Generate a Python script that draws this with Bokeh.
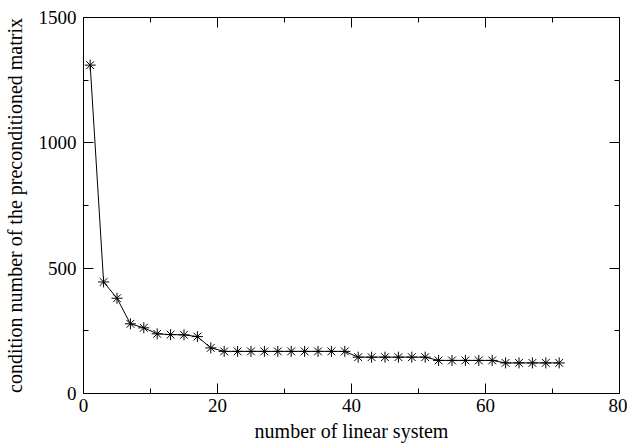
from bokeh.plotting import figure
from bokeh.models import LinearAxis, Range1d, FixedTicker, ColumnDataSource, CustomLabelingPolicy
from bokeh.embed import file_html
from bokeh.resources import INLINE

system_no = [1, 3, 5, 7, 9, 11, 13, 15, 17, 19, 21, 23, 25, 27, 29, 31, 33, 35, 37, 39,
             41, 43, 45, 47, 49, 51, 53, 55, 57, 59, 61, 63, 65, 67, 69, 71]
cond_number = [1310, 445, 380, 278, 262, 238, 235, 234, 227, 182, 168, 168, 168, 168, 168, 168, 168, 168, 168, 168,
               145, 145, 145, 145, 145, 145, 132, 132, 132, 132, 132, 122, 122, 122, 122, 122]

x_major = [0, 20, 40, 60, 80]
x_minor = [10, 30, 50, 70]
y_major = [0, 500, 1000, 1500]
y_minor = [250, 750, 1250]

FONT = "Liberation Serif"
TICK_FS = "19px"
LABEL_FS = "20px"

src = ColumnDataSource(dict(x=system_no, y=cond_number))

p = figure(width=627, height=446, output_backend="svg", toolbar_location=None,
           x_range=Range1d(0, 80), y_range=Range1d(0, 1500),
           x_axis_location=None, y_axis_location=None,
           min_border_left=82, min_border_right=8, min_border_top=17, min_border_bottom=53)
p.grid.visible = False
p.outline_line_color = "black"
p.outline_line_width = 1
p.background_fill_color = "white"
p.border_fill_color = "white"

def make_axis(ticks_major, ticks_minor, labels):
    ax = LinearAxis(ticker=FixedTicker(ticks=ticks_major, minor_ticks=ticks_minor))
    ax.major_tick_in = 10
    ax.major_tick_out = 0
    ax.minor_tick_in = 5
    ax.minor_tick_out = 0
    ax.axis_line_color = "black"
    ax.major_tick_line_color = "black"
    ax.minor_tick_line_color = "black"
    if labels:
        ax.major_label_text_font = FONT
        ax.major_label_text_font_size = TICK_FS
        ax.major_label_text_color = "black"
        ax.axis_label_text_font = FONT
        ax.axis_label_text_font_size = LABEL_FS
        ax.axis_label_text_font_style = "normal"
        ax.axis_label_text_color = "black"
    else:
        ax.major_label_policy = CustomLabelingPolicy(code="return []")
        ax.major_label_text_font_size = "1px"
        ax.major_label_standoff = 0
    return ax

xb = make_axis(x_major, x_minor, True)
xb.axis_label = "number of linear system"
xb.major_label_standoff = 5
xb.axis_label_standoff = 5
p.add_layout(xb, "below")

yl = make_axis(y_major, y_minor, True)
yl.axis_label = "condition number of the preconditioned matrix"
yl.major_label_standoff = 7
yl.axis_label_standoff = 10
p.add_layout(yl, "left")

xt = make_axis(x_major, x_minor, False)
p.add_layout(xt, "above")
yr = make_axis(y_major, y_minor, False)
p.add_layout(yr, "right")

p.line("x", "y", source=src, line_color="black", line_width=1)
p.scatter("x", "y", source=src, marker="asterisk", size=11, line_color="black", line_width=1)

open("out.html", "w").write(file_html(p, INLINE))
